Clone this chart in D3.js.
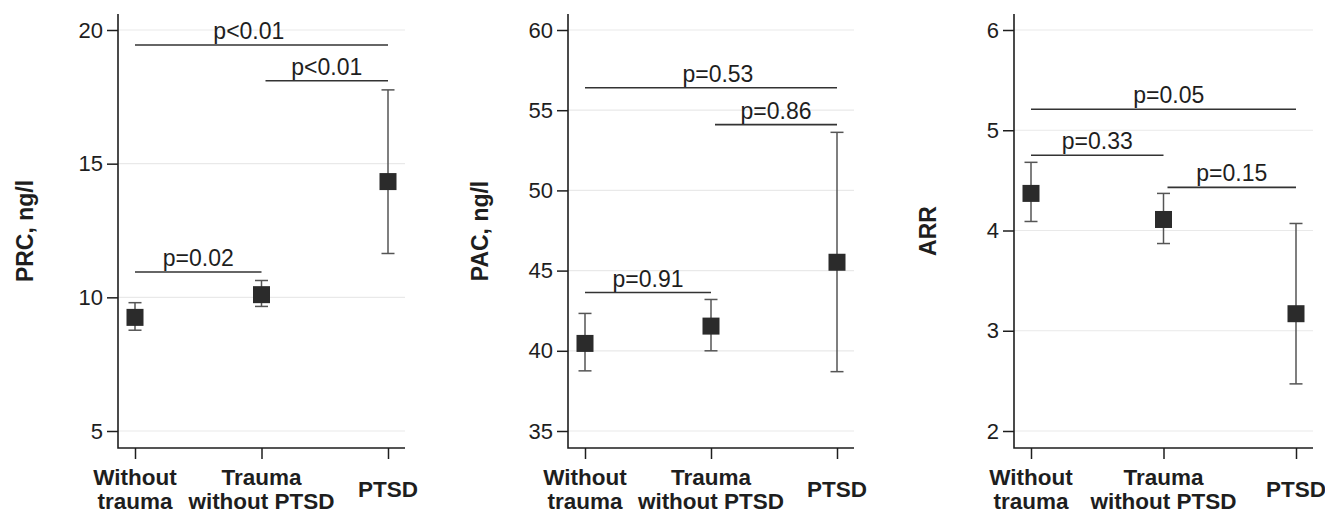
<!DOCTYPE html>
<html>
<head>
<meta charset="utf-8">
<script src="https://cdn.jsdelivr.net/npm/d3@7"></script>
<style>
  body { margin: 0; background: #fff; }
  svg { display: block; font-family: "Liberation Sans", Arial, sans-serif; }
</style>
</head>
<body>
<div id="chart"></div>
<script>
// group labels, split into lines as printed under the axis
const groupLines = [["Without", "trauma"], ["Trauma", "without PTSD"], ["PTSD"]];

// PRC, ng/l
const prcMean = [9.25, 10.1, 14.33];
const prcLow = [8.77, 9.66, 11.64];
const prcHigh = [9.8, 10.63, 17.76];
const prcTicks = [5, 10, 15, 20];
const prcTests = [
  { from: 0, to: 2, y: 19.44, label: "p<0.01", at: 0.9 },
  { from: 1, to: 2, y: 18.1, label: "p<0.01" },
  { from: 0, to: 1, y: 10.95, label: "p=0.02" }
];

// PAC, ng/l
const pacMean = [40.46, 41.54, 45.52];
const pacLow = [38.75, 40.0, 38.7];
const pacHigh = [42.33, 43.2, 53.62];
const pacTicks = [35, 40, 45, 50, 55, 60];
const pacTests = [
  { from: 0, to: 2, y: 56.4, label: "p=0.53", at: 1.055 },
  { from: 1, to: 2, y: 54.1, label: "p=0.86" },
  { from: 0, to: 1, y: 43.63, label: "p=0.91" }
];

// ARR
const arrMean = [4.37, 4.11, 3.17];
const arrLow = [4.09, 3.87, 2.47];
const arrHigh = [4.68, 4.37, 4.07];
const arrTicks = [2, 3, 4, 5, 6];
const arrTests = [
  { from: 0, to: 2, y: 5.21, label: "p=0.05", at: 1.04 },
  { from: 0, to: 1, y: 4.75, label: "p=0.33" },
  { from: 1, to: 2, y: 4.43, label: "p=0.15" }
];

const panels = [
  { title: "PRC, ng/l", mean: prcMean, low: prcLow, high: prcHigh, ticks: prcTicks, tests: prcTests,
    left: 118, right: 405, titleX: 25 },
  { title: "PAC, ng/l", mean: pacMean, low: pacLow, high: pacHigh, ticks: pacTicks, tests: pacTests,
    left: 568, right: 854, titleX: 480 },
  { title: "ARR", mean: arrMean, low: arrLow, high: arrHigh, ticks: arrTicks, tests: arrTests,
    left: 1014, right: 1313, titleX: 928 }
];

const width = 1325, height = 512;
const plotTop = 14, plotBottom = 448;
const tickTop = 30, tickBottom = 431;   // pixel rows of the first and last y tick
const edgePad = 17;                      // gap between axis and outer category
const ink = "#1e1e1e", barInk = "#555", gridInk = "#e9e9e9";

const svg = d3.select("#chart").append("svg")
  .attr("width", width).attr("height", height)
  .attr("viewBox", [0, 0, width, height]);

panels.forEach(p => {
  const g = svg.append("g");
  const idx = d3.range(p.mean.length);

  const x = d3.scaleLinear().domain([0, idx.length - 1])
    .range([p.left + edgePad, p.right - edgePad]);
  const y = d3.scaleLinear().domain(d3.extent(p.ticks)).range([tickBottom, tickTop]);

  // grid
  g.append("g").selectAll("line").data(p.ticks).join("line")
    .attr("x1", p.left).attr("x2", p.right)
    .attr("y1", d => y(d)).attr("y2", d => y(d))
    .attr("stroke", gridInk).attr("stroke-width", 1.2);

  // y axis
  const yAxis = g.append("g").attr("transform", `translate(${p.left},0)`)
    .call(d3.axisLeft(y).tickValues(p.ticks).tickSize(11).tickPadding(4).tickFormat(d3.format("d")));
  yAxis.select(".domain").remove();
  yAxis.selectAll(".tick line").attr("stroke", ink).attr("stroke-width", 1.5);
  yAxis.selectAll(".tick text").attr("fill", ink).style("font-size", "22px");

  // x axis ticks
  const xAxis = g.append("g").attr("transform", `translate(0,${plotBottom})`)
    .call(d3.axisBottom(x).tickValues(idx).tickSize(11).tickFormat(""));
  xAxis.select(".domain").remove();
  xAxis.selectAll(".tick line").attr("stroke", ink).attr("stroke-width", 1.5);

  // axis frame (left + bottom)
  g.append("path")
    .attr("d", `M${p.left},${plotTop}V${plotBottom}H${p.right}`)
    .attr("fill", "none").attr("stroke", ink).attr("stroke-width", 1.6);

  // category labels
  const cat = g.append("g").selectAll("text").data(idx).join("text")
    .attr("x", i => x(i))
    .attr("text-anchor", "middle")
    .attr("fill", ink).style("font-size", "22.5px").style("font-weight", "bold");
  cat.each(function(i) {
    const lines = groupLines[i];
    const base = lines.length === 1 ? 497 : 485;
    d3.select(this).selectAll("tspan").data(lines).join("tspan")
      .attr("x", x(i)).attr("y", (d, k) => base + k * 24).text(d => d);
  });

  // axis title
  g.append("text")
    .attr("transform", `translate(${p.titleX},${(plotTop + plotBottom) / 2}) rotate(-90)`)
    .attr("text-anchor", "middle").attr("dominant-baseline", "central")
    .attr("fill", ink).style("font-size", "23px").style("font-weight", "bold")
    .text(p.title);

  // error bars
  const bars = g.append("g").attr("stroke", barInk).attr("stroke-width", 1.5);
  bars.selectAll(".stem").data(idx).join("line").attr("class", "stem")
    .attr("x1", i => x(i)).attr("x2", i => x(i))
    .attr("y1", i => y(p.low[i])).attr("y2", i => y(p.high[i]));
  bars.selectAll(".capHi").data(idx).join("line").attr("class", "capHi")
    .attr("x1", i => x(i) - 6.5).attr("x2", i => x(i) + 6.5)
    .attr("y1", i => y(p.high[i])).attr("y2", i => y(p.high[i]));
  bars.selectAll(".capLo").data(idx).join("line").attr("class", "capLo")
    .attr("x1", i => x(i) - 6.5).attr("x2", i => x(i) + 6.5)
    .attr("y1", i => y(p.low[i])).attr("y2", i => y(p.low[i]));

  // means
  const s = 17;
  g.append("g").selectAll("rect").data(idx).join("rect")
    .attr("x", i => x(i) - s / 2).attr("y", i => y(p.mean[i]) - s / 2)
    .attr("width", s).attr("height", s).attr("fill", "#2b2b2b");

  // significance brackets
  const tests = g.append("g");
  tests.selectAll("line").data(p.tests).join("line")
    .attr("x1", d => x(d.from) + (d.from === 1 ? 4 : 0))
    .attr("x2", d => x(d.to))
    .attr("y1", d => y(d.y)).attr("y2", d => y(d.y))
    .attr("stroke", "#333").attr("stroke-width", 1.6);
  tests.selectAll("text").data(p.tests).join("text")
    .attr("x", d => d.at !== undefined ? x(d.at) : (x(d.from) + (d.from === 1 ? 4 : 0) + x(d.to)) / 2)
    .attr("y", d => y(d.y) - 6)
    .attr("text-anchor", "middle")
    .attr("fill", ink).style("font-size", "23px")
    .text(d => d.label);
});
</script>
</body>
</html>
